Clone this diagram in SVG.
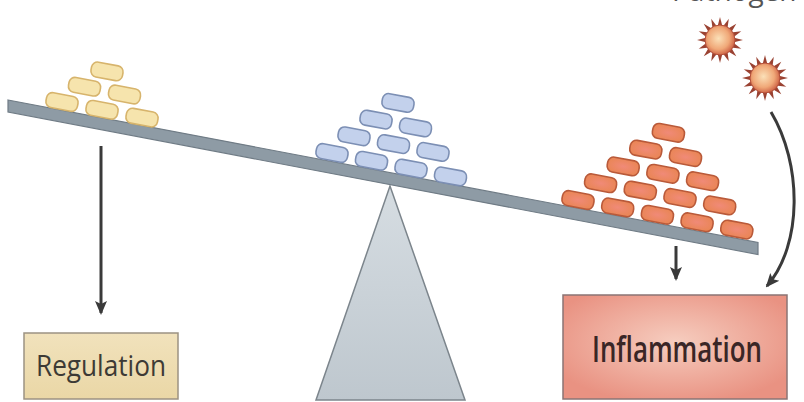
<svg xmlns="http://www.w3.org/2000/svg" xmlns:xlink="http://www.w3.org/1999/xlink" width="804" height="402" viewBox="0 0 804 402">
  <style>
    .brick { stroke-width: 1.6; }
    .yel { fill: #f6e4ad; stroke: #d7b46c; }
    .blu { fill: #c3d1ec; stroke: #7c8fb4; }
    .org { fill: url(#orgFill); stroke: #b95a3a; }
    .arrow { fill: none; stroke: #3a3a3a; stroke-width: 3; }
    .label { font-family: "Open Sans", "Noto Sans", sans-serif; text-anchor: middle; }
  </style>
  <defs>
    <marker id="headR" viewBox="-7 -7 14 14" refX="5" refY="0" markerWidth="14" markerHeight="14" markerUnits="userSpaceOnUse" orient="auto">
      <path d="M-7,-6 L7,0 L-7,6 L-4,0 Z" fill="#3a3a3a"/>
    </marker>
    <radialGradient id="orgFill" cx="0.5" cy="0.5" r="0.6">
      <stop offset="0" stop-color="#f08a78"/>
      <stop offset="1" stop-color="#e98552"/>
    </radialGradient>
    <linearGradient id="standFill" x1="0" y1="0" x2="0" y2="1">
      <stop offset="0" stop-color="#d6dde2"/>
      <stop offset="1" stop-color="#bec7ce"/>
    </linearGradient>
    <radialGradient id="boxFill" cx="0.5" cy="0.45" r="0.6">
      <stop offset="0" stop-color="#f6cdbf"/>
      <stop offset="1" stop-color="#e99282"/>
    </radialGradient>
    <linearGradient id="regFill" x1="0" y1="0" x2="0" y2="1">
      <stop offset="0" stop-color="#f1e2bc"/>
      <stop offset="1" stop-color="#ead7a6"/>
    </linearGradient>
    <radialGradient id="microbeBody" cx="0.45" cy="0.45" r="0.6">
      <stop offset="0" stop-color="#fbe0b8"/>
      <stop offset="0.6" stop-color="#f0a878"/>
      <stop offset="1" stop-color="#c8563c"/>
    </radialGradient>
    <polygon id="spike" points="-2.6,-13 0,-23 2.6,-13" fill="#9a4232"/>
    <g id="microbe">
      <use xlink:href="#spike"/>
      <use xlink:href="#spike" transform="rotate(22.5)"/>
      <use xlink:href="#spike" transform="rotate(45)"/>
      <use xlink:href="#spike" transform="rotate(67.5)"/>
      <use xlink:href="#spike" transform="rotate(90)"/>
      <use xlink:href="#spike" transform="rotate(112.5)"/>
      <use xlink:href="#spike" transform="rotate(135)"/>
      <use xlink:href="#spike" transform="rotate(157.5)"/>
      <use xlink:href="#spike" transform="rotate(180)"/>
      <use xlink:href="#spike" transform="rotate(202.5)"/>
      <use xlink:href="#spike" transform="rotate(225)"/>
      <use xlink:href="#spike" transform="rotate(247.5)"/>
      <use xlink:href="#spike" transform="rotate(270)"/>
      <use xlink:href="#spike" transform="rotate(292.5)"/>
      <use xlink:href="#spike" transform="rotate(315)"/>
      <use xlink:href="#spike" transform="rotate(337.5)"/>
      <circle r="15" fill="url(#microbeBody)" stroke="#b4503a" stroke-width="1"/>
    </g>
    <rect id="b" x="-16" y="-7.5" width="32" height="15" rx="6"/>
  </defs>

  <rect width="804" height="402" fill="#ffffff"/>

  <!-- heading running off the top edge -->
  <text x="672" y="0.5" font-family="'Open Sans', 'Noto Sans', sans-serif" font-size="28" fill="#555">Pathogen</text>

  <!-- fulcrum -->
  <g id="fulcrum">
    <polygon points="390,186 316,400 465,400" fill="url(#standFill)" stroke="#7c858c" stroke-width="1.5"/>
  </g>

  <!-- seesaw beam -->
  <g id="beam">
    <polygon points="8,100 758,242.5 758,254.5 8,112" fill="#8e9ba5" stroke="#6f7b85" stroke-width="1.2"/>
  </g>

  <!-- regulatory cells (left pile) -->
  <g id="regulatory-cells" class="brick yel">
    <use xlink:href="#b" transform="translate(62,102) rotate(10.7)"/>
    <use xlink:href="#b" transform="translate(102,109.8) rotate(10.7)"/>
    <use xlink:href="#b" transform="translate(142,117.6) rotate(10.7)"/>
    <use xlink:href="#b" transform="translate(84.5,86.7) rotate(10.7)"/>
    <use xlink:href="#b" transform="translate(124.5,94.5) rotate(10.7)"/>
    <use xlink:href="#b" transform="translate(107,71.4) rotate(10.7)"/>
  </g>

  <!-- middle pile -->
  <g id="naive-cells" class="brick blu">
    <use xlink:href="#b" transform="translate(332,153) rotate(10.7)"/>
    <use xlink:href="#b" transform="translate(371.5,160.8) rotate(10.7)"/>
    <use xlink:href="#b" transform="translate(411,168.6) rotate(10.7)"/>
    <use xlink:href="#b" transform="translate(450.5,176.4) rotate(10.7)"/>
    <use xlink:href="#b" transform="translate(354,136.3) rotate(10.7)"/>
    <use xlink:href="#b" transform="translate(393.5,144.1) rotate(10.7)"/>
    <use xlink:href="#b" transform="translate(433,151.9) rotate(10.7)"/>
    <use xlink:href="#b" transform="translate(376,119.6) rotate(10.7)"/>
    <use xlink:href="#b" transform="translate(415.5,127.4) rotate(10.7)"/>
    <use xlink:href="#b" transform="translate(398,102.9) rotate(10.7)"/>
  </g>

  <!-- effector cells (right pile) -->
  <g id="effector-cells" class="brick org">
    <use xlink:href="#b" transform="translate(578,200) rotate(10.7)"/>
    <use xlink:href="#b" transform="translate(617.7,207.4) rotate(10.7)"/>
    <use xlink:href="#b" transform="translate(657.4,214.8) rotate(10.7)"/>
    <use xlink:href="#b" transform="translate(697.1,222.2) rotate(10.7)"/>
    <use xlink:href="#b" transform="translate(736.8,229.6) rotate(10.7)"/>
    <use xlink:href="#b" transform="translate(600.6,183.2) rotate(10.7)"/>
    <use xlink:href="#b" transform="translate(640.3,190.6) rotate(10.7)"/>
    <use xlink:href="#b" transform="translate(680,198) rotate(10.7)"/>
    <use xlink:href="#b" transform="translate(719.7,205.4) rotate(10.7)"/>
    <use xlink:href="#b" transform="translate(623.2,166.4) rotate(10.7)"/>
    <use xlink:href="#b" transform="translate(662.9,173.8) rotate(10.7)"/>
    <use xlink:href="#b" transform="translate(702.6,181.2) rotate(10.7)"/>
    <use xlink:href="#b" transform="translate(645.8,149.6) rotate(10.7)"/>
    <use xlink:href="#b" transform="translate(685.5,157) rotate(10.7)"/>
    <use xlink:href="#b" transform="translate(668.4,132.8) rotate(10.7)"/>
  </g>

  <!-- microbes -->
  <g id="microbe-1">
    <use xlink:href="#microbe" transform="translate(720,40)"/>
  </g>
  <g id="microbe-2">
    <use xlink:href="#microbe" transform="translate(765,78)"/>
  </g>

  <!-- outcome boxes -->
  <g id="regulation">
    <rect x="24" y="333" width="154" height="66" fill="url(#regFill)" stroke="#9c9282" stroke-width="1.5"/>
    <text x="101" y="376" class="label" font-size="30" fill="#3d3a35" textLength="130" lengthAdjust="spacingAndGlyphs">Regulation</text>
  </g>
  <g id="inflammation">
    <rect x="563" y="295" width="224" height="104" fill="url(#boxFill)" stroke="#8a7474" stroke-width="1.5"/>
    <text x="677" y="362" class="label" font-size="36" font-weight="600" fill="#3a2626" textLength="170" lengthAdjust="spacingAndGlyphs">Inflammation</text>
  </g>

  <!-- connectors -->
  <g id="connectors">
    <line class="arrow" x1="101" y1="146" x2="101" y2="313" marker-end="url(#headR)"/>
    <line class="arrow" x1="676" y1="246" x2="676" y2="279" marker-end="url(#headR)"/>
    <path class="arrow" d="M771,112 C802,164 803,244 767,286" marker-end="url(#headR)"/>
  </g>
</svg>
